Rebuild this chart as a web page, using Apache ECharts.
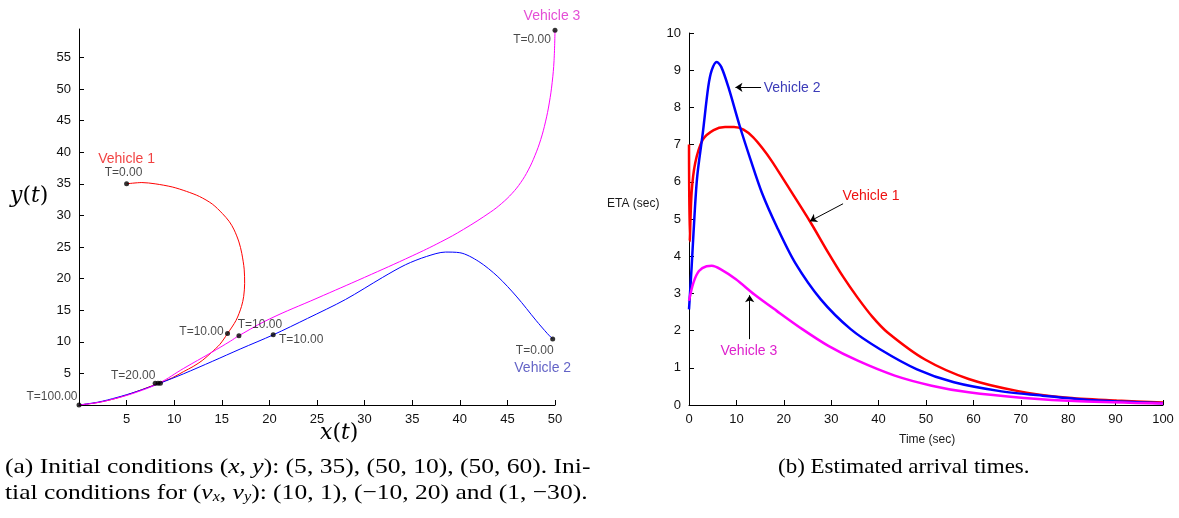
<!DOCTYPE html>
<html>
<head>
  <meta charset="utf-8">
  <title>Trajectories and estimated arrival times</title>
  <style>
    body {
      margin: 0;
      background-color: #ffffff;
    }
    #chart {
      width: 1179px;
      height: 518px;
    }
  </style>
</head>
<body>
  <div id="chart"></div>
  <script src="https://cdn.jsdelivr.net/npm/echarts@6/dist/echarts.min.js"></script>
  <script>
    // (a) trajectories, [x, y]
    var v1Path = [[5, 35], [6.6, 35.2], [8, 35.0], [9.8, 34.5], [11.3, 33.8], [12.65, 33], [14, 31.8], [15.06, 30.3],
      [15.8, 29], [16.3, 27.7], [16.8, 25.8], [17.1, 24], [17.35, 21.5], [17.4, 19.25], [17.3, 17.2], [17.07, 15.6],
      [16.5, 13.4], [15.6, 11.3], [14.8, 9.6], [13.9, 8.3], [13, 7.1], [12, 6.1], [11, 5.3], [9.8, 4.3], [8.3, 3.4],
      [6, 2.1], [4, 1.1], [2, 0.4], [0, 0]];
    var v2Path = [[49.76, 10.44], [49.2, 11.3], [48, 13.4], [46, 17.1], [44, 20.3], [42, 22.7], [40, 24.1], [38.5, 24.2],
      [36.5, 23.5], [34.3, 22.2], [31.9, 20.2], [28, 16.7], [24, 13.7], [20.4, 11.1], [17, 8.9], [14, 6.9], [11, 4.95],
      [8.5, 3.45], [6, 2.1], [4, 1.2], [2, 0.45], [0, 0]];
    var v3Path = [[50, 59.3], [49.9, 54.5], [49.7, 51], [49.4, 47.8], [49, 44.8], [48.5, 42], [47.9, 39.5], [47.2, 37.2],
      [46.4, 35.2], [45.5, 33.5], [44.4, 31.9], [43.2, 30.5], [40.4, 27.8], [38, 25.8], [35, 23.6], [30, 20.2],
      [25, 16.9], [20, 13.6], [16.8, 10.97], [15.9, 10.1], [13.9, 8.3], [11, 5.8], [8.4, 3.45], [6, 2.0], [4, 1.1],
      [2, 0.4], [0, 0]];

    // time markers on the trajectories
    var markerPts = [[5, 35], [49.76, 10.44], [50, 59.3], [15.6, 11.3], [16.8, 10.97], [20.4, 11.1],
      [8.0, 3.43], [8.3, 3.45], [8.55, 3.45], [0, 0]];
    var markerText = ['T=0.00', 'T=0.00', 'T=0.00', 'T=10.00', 'T=10.00', 'T=10.00', 'T=20.00', '', '', 'T=100.00'];
    var vehicleNames = ['Vehicle 1', 'Vehicle 2', 'Vehicle 3'];

    // (b) estimated arrival times, [time, eta]
    var v1Eta = [[0, 7.0], [0.15, 4.4], [0.55, 5.7], [1.3, 6.5], [2.9, 7.13], [5.2, 7.39], [7.6, 7.47], [9.5, 7.47],
      [11.5, 7.4], [13.5, 7.2], [15.5, 6.9], [17.5, 6.55], [20, 6.05], [25.5, 4.94], [29.4, 4.09], [32.5, 3.45],
      [35.6, 2.88], [38.7, 2.37], [41.9, 1.95], [49.7, 1.23], [59, 0.70], [69.2, 0.38], [79.3, 0.2], [90.2, 0.12],
      [100, 0.07]];
    var v2Eta = [[0, 2.57], [0.55, 3.7], [0.94, 4.6], [1.7, 6.1], [2.9, 7.3], [4.06, 8.55], [4.8, 9.0], [5.85, 9.22],
      [6.8, 9.09], [8.3, 8.55], [10.7, 7.5], [13, 6.59], [15.4, 5.7], [18.5, 4.8], [22.4, 3.82], [27.8, 2.84],
      [34.1, 2.04], [40.3, 1.5], [48.1, 0.96], [55.9, 0.61], [65.3, 0.38], [74.6, 0.25], [86.3, 0.12], [100, 0.05]];
    var v3Eta = [[0, 2.8], [0.94, 3.29], [2.1, 3.6], [3.7, 3.73], [4.8, 3.74], [6.8, 3.64], [9.9, 3.38], [13.8, 2.97],
      [18.5, 2.53], [23.9, 2.04], [29.4, 1.59], [35.6, 1.19], [43.4, 0.79], [51.2, 0.52], [59, 0.34], [70.7, 0.19],
      [82.4, 0.10], [100, 0.04]];

    // tick labels
    var xTicksA = [5, 10, 15, 20, 25, 30, 35, 40, 45, 50];
    var yTicksA = [5, 10, 15, 20, 25, 30, 35, 40, 45, 50, 55];
    var xTicksB = [0, 10, 20, 30, 40, 50, 60, 70, 80, 90, 100];
    var yTicksB = [0, 1, 2, 3, 4, 5, 6, 7, 8, 9, 10];

    var red = '#ff0000', blue = '#0000ff', magenta = '#ff00ff';
    var font = 'Liberation Sans, Arial, sans-serif';

    // label offsets (px) for the marker texts, matched to markerText
    var markerOffsets = [[-3, -11], [-18, 12], [-23, 9], [-26, -2], [21, -11], [28, 5], [-22, -8], [0, 0], [0, 0], [-27, -8]];
    var nameOffsets = [[0, -25], [-10, 29], [-3, -14]];
    var nameColors = ['#ee1111', '#3c3cb8', '#dd22cc'];

    var markerData = markerPts.map(function (p, i) {
      return {
        value: p,
        label: { show: markerText[i] !== '', formatter: markerText[i], offset: markerOffsets[i] }
      };
    });
    var nameData = vehicleNames.map(function (n, i) {
      return {
        value: markerPts[i],
        label: { formatter: n, offset: nameOffsets[i], color: nameColors[i] }
      };
    });

    function axisStyle(ticks) {
      return {
        axisLine: { lineStyle: { color: '#000', width: 1 } },
        axisTick: { inside: true, length: 5, lineStyle: { color: '#000' }, customValues: ticks },
        axisLabel: { color: '#111', fontSize: 13, fontFamily: font, customValues: ticks, margin: 8 },
        splitLine: { show: false }
      };
    }

    function trajLine(data, color, smooth) {
      return { type: 'line', xAxisIndex: 0, yAxisIndex: 0, data: data, showSymbol: false, smooth: smooth,
        lineStyle: { color: color, width: 1 } };
    }

    function etaLine(data, color) {
      return { type: 'line', xAxisIndex: 1, yAxisIndex: 1, data: data, showSymbol: false, smooth: 0.3,
        lineStyle: { color: color, width: 2.5 } };
    }

    function arrow(from, to) {
      return {
        silent: true, symbol: ['none', 'arrow'], symbolSize: 7,
        lineStyle: { color: '#000', width: 1, type: 'solid' }, label: { show: false },
        data: [[{ coord: from }, { coord: to }]]
      };
    }

    function note(name, at, color, align) {
      return {
        symbolSize: 0,
        label: { show: true, formatter: '{b}', color: color, fontSize: 14, fontFamily: font, align: align || 'center' },
        data: [{ name: name, coord: at }]
      };
    }

    var s1 = etaLine(v1Eta, red);
    s1.markLine = arrow([32.5, 5.41], [25.5, 4.94]);
    s1.markPoint = note('Vehicle 1', [38.4, 5.61], '#ee1111');
    var s2 = etaLine(v2Eta, blue);
    s2.markLine = arrow([15.2, 8.54], [9.8, 8.54]);
    s2.markPoint = note('Vehicle 2', [15.76, 8.51], '#3c3cb8', 'left');
    var s3 = etaLine(v3Eta, magenta);
    s3.markLine = arrow([12.8, 1.77], [12.8, 2.95]);
    s3.markPoint = note('Vehicle 3', [12.64, 1.46], '#dd22cc');

    var option = {
      animation: false,
      backgroundColor: '#ffffff',
      grid: [
        { left: 79, right: 624, top: 29, bottom: 113 },
        { left: 689, right: 16, top: 33, bottom: 113 }
      ],
      xAxis: [
        Object.assign({ type: 'value', gridIndex: 0, min: 0, max: 50, interval: 5 }, axisStyle(xTicksA)),
        Object.assign({ type: 'value', gridIndex: 1, min: 0, max: 100, interval: 10 }, axisStyle(xTicksB))
      ],
      yAxis: [
        Object.assign({ type: 'value', gridIndex: 0, min: 0, max: 59.5, interval: 5 }, axisStyle(yTicksA)),
        Object.assign({ type: 'value', gridIndex: 1, min: 0, max: 10, interval: 1 }, axisStyle(yTicksB))
      ],
      series: [
        trajLine(v1Path, red, 0.3),
        trajLine(v2Path, blue, 0.3),
        trajLine(v3Path, magenta, 0.4),
        { type: 'scatter', xAxisIndex: 0, yAxisIndex: 0, data: markerData, symbolSize: 5,
          itemStyle: { color: '#000' }, z: 5,
          label: { position: 'inside', color: '#1a1a1a', fontSize: 12, fontFamily: font } },
        { type: 'scatter', xAxisIndex: 0, yAxisIndex: 0, data: nameData, symbolSize: 0, z: 5,
          label: { show: true, position: 'inside', fontSize: 14, fontFamily: font } },
        s1, s2, s3
      ],
      graphic: [
        { type: 'text', left: 10, top: 185, style: {
          text: '{i|y}({i|t})', fill: '#000', font: '22px DejaVu Serif',
          rich: { i: { fontStyle: 'italic', fontFamily: 'DejaVu Serif', fontSize: 22 } } } },
        { type: 'text', left: 320, top: 422, style: {
          text: '{i|x}({i|t})', fill: '#000', font: '22px DejaVu Serif',
          rich: { i: { fontStyle: 'italic', fontFamily: 'DejaVu Serif', fontSize: 22 } } } },
        { type: 'text', left: 607, top: 198, style: {
          text: 'ETA (sec)', fill: '#1a1a1a', font: '12px ' + font } },
        { type: 'text', left: 899, top: 434, style: {
          text: 'Time (sec)', fill: '#1a1a1a', font: '12px ' + font } },
        { type: 'text', x: 5, y: 454, scaleX: 1.16, style: {
          text: '(a) Initial conditions ({i|x}, {i|y}): (5, 35), (50, 10), (50, 60). Ini-\n' +
            'tial conditions for ({i|v}{s|x}, {i|v}{s|y}): (10, 1), (\u221210, 20) and (1, \u221230).',
          fill: '#000', font: '22px Liberation Serif', lineHeight: 26,
          rich: {
            i: { fontStyle: 'italic', fontFamily: 'Liberation Serif', fontSize: 22, lineHeight: 26 },
            s: { fontStyle: 'italic', fontFamily: 'Liberation Serif', fontSize: 14, lineHeight: 26, padding: [9, 0, 0, 0] }
          } } },
        { type: 'text', x: 778, y: 454, scaleX: 1.045, style: {
          text: '(b) Estimated arrival times.', fill: '#000', font: '22px Liberation Serif', lineHeight: 26 } }
      ]
    };

    var chart = echarts.init(document.getElementById('chart'));
    chart.setOption(option);
  </script>
</body>
</html>
